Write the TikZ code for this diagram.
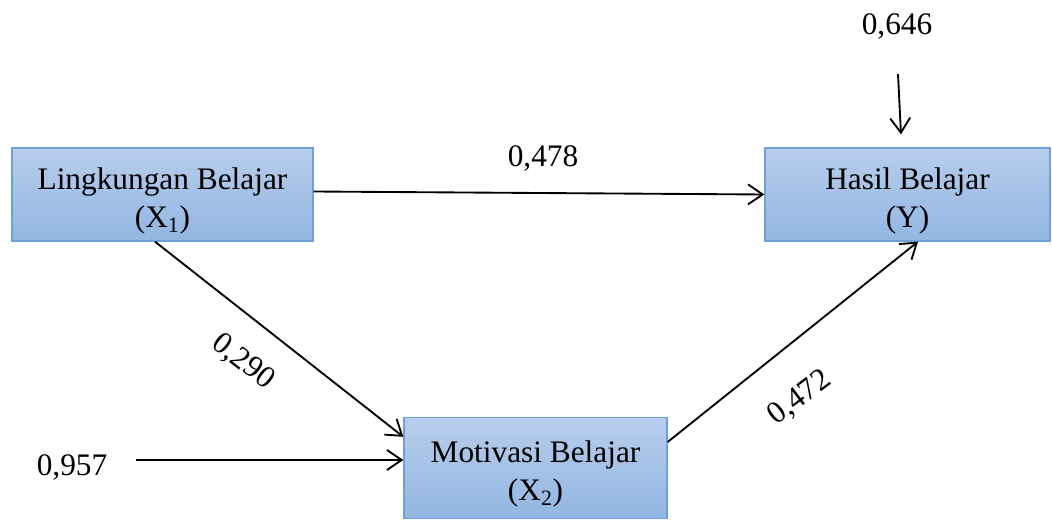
\documentclass[tikz,border=0pt]{standalone}
\usepackage{fontspec}
\setmainfont{Liberation Serif}
\usetikzlibrary{arrows.meta,calc}
\definecolor{boxtop}{RGB}{183,205,236}
\definecolor{boxbot}{RGB}{146,182,226}
\definecolor{boxline}{RGB}{112,160,216}
\tikzset{
  varbox/.style={draw=boxline, line width=1pt, top color=boxtop, bottom color=boxbot, inner sep=0pt},
  boxtext/.style={align=center, font=\fontsize{23.5}{28.5}\selectfont, inner sep=0pt, yshift=-4.5pt},
  lbl/.style={font=\fontsize{23.5}{28}\selectfont, inner sep=0pt},
  conn/.style={line width=1.4pt, -{Straight Barb[length=11pt,width=15pt,line width=1.4pt]}}
}
\begin{document}
\begin{tikzpicture}[x=0.75pt,y=-0.75pt]
\useasboundingbox (0,0) rectangle (1052,520);
\node[varbox, minimum width={301*0.75pt}, minimum height={93*0.75pt},
  label={[boxtext]center:{Lingkungan Belajar\\(X\textsubscript{1})}}] (X1) at (162.5,194.5) {};
\node[varbox, minimum width={285*0.75pt}, minimum height={93*0.75pt},
  label={[boxtext]center:{Hasil Belajar\\(Y)}}] (Y) at (907.5,194.5) {};
\node[varbox, minimum width={263*0.75pt}, minimum height={101*0.75pt},
  label={[boxtext]center:{Motivasi Belajar\\(X\textsubscript{2})}}] (X2) at (535.5,468) {};
\node[lbl] (l478) at (543,158) {0,478};
\node[lbl, rotate=-38] (l290) at (243,362) {0,290};
\node[lbl, rotate=37] (l472) at (800,398) {0,472};
\node[lbl] (e957) at (72,467) {0,957};
\node[lbl] (e646) at (897,26) {0,646};
\draw[conn] ($(X1.east)+(0,-3)$) -- ($(Y.west)+(0,0)$);
\draw[conn] ($(X1.south)+(-7.5,0)$) -- ($(X2.north west)+(0,20)$);
\draw[conn] ($(X2.east)+(0,-26)$) -- ($(Y.south)+(10.5,0)$);
\draw[conn] ($(e957.east)+(28,-7)$) -- ($(X2.west)+(0,-8)$);
\draw[conn] ($(e646.south)+(1,35)$) -- ($(Y.north)+(-6.5,-13)$);
\end{tikzpicture}
\end{document}
